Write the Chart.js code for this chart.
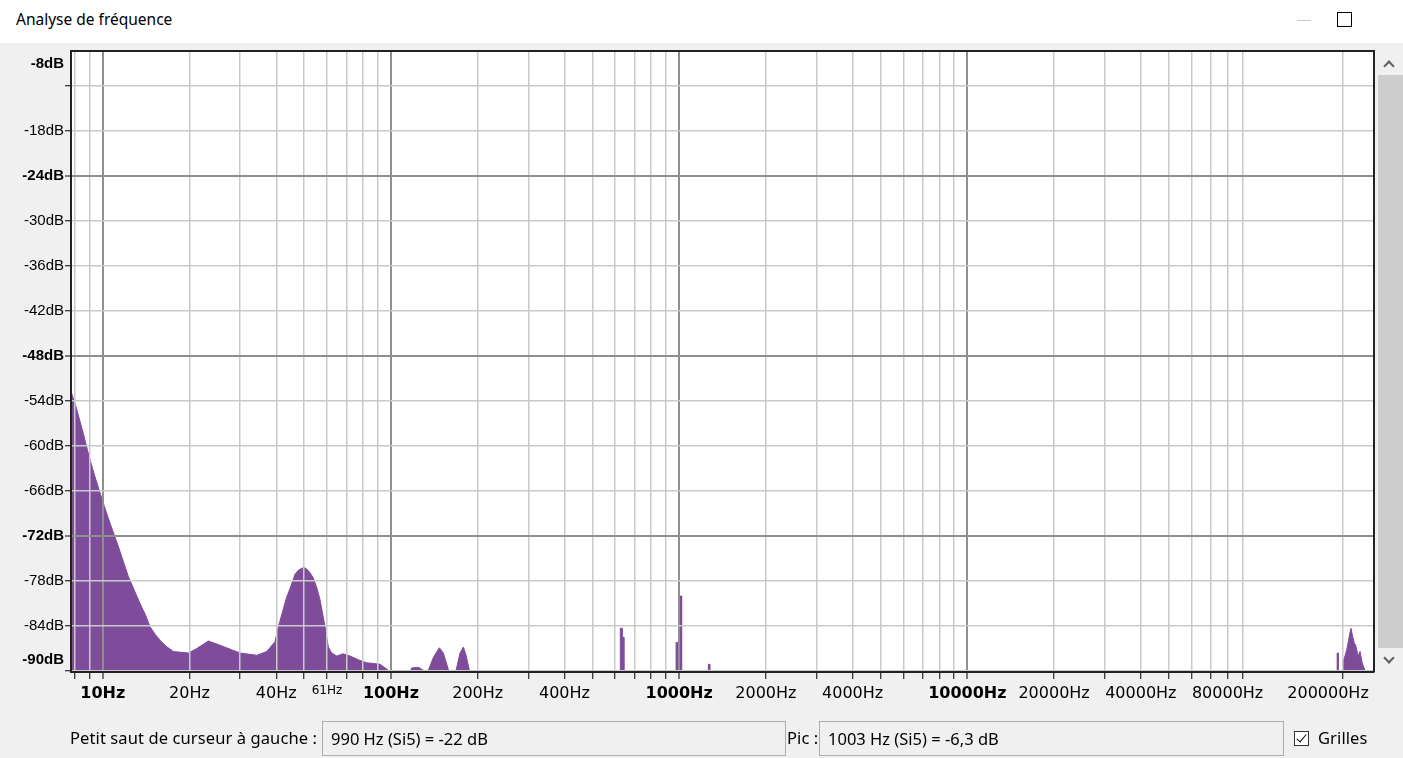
<!DOCTYPE html>
<html lang="fr">
<head>
<meta charset="utf-8">
<title>Analyse de fréquence</title>
<script src="https://cdn.jsdelivr.net/npm/chart.js@4.4.1/dist/chart.umd.min.js"></script>
<style>
  html, body { margin: 0; padding: 0; }
  body {
    width: 1403px; height: 758px; position: relative; overflow: hidden;
    background: #f0f0f0; font-family: "Noto Sans", "Open Sans", sans-serif; color: #000;
  }
  #titlebar { position: absolute; left: 0; top: 0; width: 1403px; height: 43px; background: #fff; }
  #titlebar .t { position: absolute; left: 16px; top: 8px; font-size: 15.5px; }
  #titlebar .min { position: absolute; left: 1297px; top: 20px; width: 14px; height: 1px; background: #c8c8c8; }
  #titlebar .max { position: absolute; left: 1337px; top: 12px; width: 13px; height: 13px; border: 1px solid #000; }
  #wrap { position: absolute; left: 0; top: 0; width: 1403px; height: 758px; }
  #sb { position: absolute; left: 1377px; top: 51px; width: 26px; height: 621px; background: #f0f0f0; }
  #sb .thumb { position: absolute; left: 1px; top: 24px; width: 25px; height: 573px; background: #cdcdcd; }
  .chev { position: absolute; left: 8px; width: 6px; height: 6px; border-left: 2px solid #606060; border-top: 2px solid #606060; }
  .chev.up { top: 11px; transform: rotate(45deg); }
  .chev.down { top: 603px; transform: rotate(225deg); }
  .lbl { position: absolute; top: 727px; font-size: 16.5px; line-height: 22px; white-space: nowrap; letter-spacing: 0.1px; }
  .box {
    position: absolute; top: 721px; height: 33px; border: 1px solid #adadad; background: #f0f0f0;
    font-size: 16.5px; line-height: 33px; padding-left: 8px; box-sizing: content-box; white-space: nowrap;
  }
  .chk { position: absolute; left: 1294px; top: 731px; width: 13px; height: 13px; border: 1px solid #333; background: #fff; }
  .chk::after {
    content: ""; position: absolute; left: 4px; top: 0px; width: 4px; height: 9px;
    border-right: 1.5px solid #000; border-bottom: 1.5px solid #000; transform: rotate(40deg);
  }
</style>
</head>
<body>
<div id="titlebar">
  <div class="t">Analyse de fréquence</div>
  <div class="min"></div>
  <div class="max"></div>
</div>
<div id="wrap"><canvas id="spectrum" width="1403" height="758"></canvas></div>
<div id="sb">
  <div class="chev up"></div>
  <div class="thumb"></div>
  <div class="chev down"></div>
</div>
<div class="lbl" style="left:70px">Petit saut de curseur à gauche :</div>
<div class="box" style="left:322px; width:454px">990 Hz (Si5) = -22 dB</div>
<div class="lbl" style="left:787px">Pic :</div>
<div class="box" style="left:819px; width:455px">1003 Hz (Si5) = -6,3 dB</div>
<div class="chk"></div>
<div class="lbl" style="left:1318px">Grilles</div>

<script>
// spectrum (Hz, dB). -95 = below the floor of the view
const freqHz = [
  7.7, 8.08, 8.56, 8.98, 9.4, 10, 10.6, 11.33, 12.27, 13.47, 14.1, 14.59, 15.2, 15.8, 16.6, 17.58,
  19.82, 21.2, 23.25, 24.86, 29.95, 34.22, 37.07, 39.61, 40.67, 43.5, 44.66, 46.47, 47.61,
  49.04, 49.94, 51.03, 52.39, 53.8, 55.41, 56.75, 59.06, 60.64, 62.31, 64.85, 68.36, 72.12,
  78.13, 82.41, 91.67, 97.95, 101.9, 113.4, 118.1, 124.5, 129.6, 133.2, 134.9, 140.3, 147.2,
  152, 158.2, 160.4, 166, 168.3, 173.7, 178.4, 182.3, 187.1, 189.7,
  625, 625, 634, 634, 643, 643,
  976, 976, 990, 990,
  1005, 1005, 1020, 1020,
  1263, 1263, 1277, 1277,
  192000, 192000, 193800, 193800,
  201500, 201700, 204400, 207200, 209900, 212800, 214500, 216700, 220200, 222500,
  224500, 227400, 230500, 234800, 238000, 238500, 258000
];
const levelDb = [
  -52.3, -54.8, -58.3, -61.5, -64.1, -67.4, -70.3, -73.4, -77.4, -81.0, -82.6, -84.1, -85.1, -85.9, -86.7, -87.4,
  -87.6, -87.0, -86.0, -86.4, -87.6, -87.9, -87.4, -86.1, -84.1, -80.1, -79.0, -77.1, -76.6,
  -76.3, -76.2, -76.4, -76.9, -77.6, -79.0, -80.5, -84.1, -86.8, -87.6, -88.0, -87.7, -88.0,
  -88.6, -88.9, -89.1, -89.9, -91, -91, -89.6, -89.5, -89.9, -90.4, -89.9, -88.2, -86.9,
  -87.6, -89.8, -91, -91, -89.9, -87.6, -86.8, -87.9, -89.9, -95,
  -95, -84.3, -84.3, -85.5, -85.5, -95,
  -95, -86.2, -86.2, -95,
  -95, -80.0, -80.0, -95,
  -95, -89.1, -89.1, -95,
  -95, -87.6, -87.6, -95,
  -95, -88.7, -88.0, -87.2, -86.1, -84.8, -84.3, -85.2, -86.3, -86.5,
  -87.2, -88.0, -87.4, -89.0, -89.6, -95, -95
];

// axes
const xMin = 7.76;
const xMax = 257700;
const yMin = -90.13;
const yMax = -7.33;
const xGridHz = [8, 9, 10, 20, 30, 40, 50, 60, 70, 80, 90,
  100, 200, 300, 400, 500, 600, 700, 800, 900,
  1000, 2000, 3000, 4000, 5000, 6000, 7000, 8000, 9000,
  10000, 20000, 30000, 40000, 50000, 60000, 70000, 80000, 90000, 200000];
const xTickLabels = {
  10: '10Hz', 20: '20Hz', 40: '40Hz', 60: '61Hz', 100: '100Hz', 200: '200Hz', 400: '400Hz',
  1000: '1000Hz', 2000: '2000Hz', 4000: '4000Hz', 10000: '10000Hz', 20000: '20000Hz',
  40000: '40000Hz', 80000: '80000Hz'
};
// labels pushed inside the plot edge, as the ruler does (no grid line of their own)
const xEdgeLabels = { 178500: '200000Hz' };
const xMajor = [10, 100, 1000, 10000];

const yGridDb = [-90, -84, -78, -72, -66, -60, -54, -48, -42, -36, -30, -24, -18, -12];
const yTickLabels = {
  '-84': '-84dB', '-78': '-78dB', '-72': '-72dB', '-66': '-66dB', '-60': '-60dB', '-54': '-54dB',
  '-48': '-48dB', '-42': '-42dB', '-36': '-36dB', '-30': '-30dB', '-24': '-24dB', '-18': '-18dB'
};
const yEdgeLabels = { '-9': '-8dB', '-88.5': '-90dB' };
const yMajor = [-24, -48, -72];
const yBold = ['-8dB', '-24dB', '-48dB', '-72dB', '-90dB'];

const purple = '#7f4c9b';
const gridLight = '#c9c9c9';
const gridDark = '#8e8e8e';
const none = 'rgba(0,0,0,0)';

const paper = {
  id: 'paper',
  beforeDraw(chart) {
    const a = chart.chartArea, c = chart.ctx;
    c.save();
    c.fillStyle = '#fff';
    c.fillRect(a.left, a.top, a.right - a.left, a.bottom - a.top);
    c.restore();
  },
  afterDraw(chart) {
    const a = chart.chartArea, c = chart.ctx;
    c.save();
    c.strokeStyle = '#222';
    c.lineWidth = 2;
    c.beginPath();
    c.moveTo(a.left, a.top);
    c.lineTo(a.right, a.top);
    c.lineTo(a.right, a.bottom);
    c.stroke();
    c.restore();
  }
};

function xLabel(v) {
  return xTickLabels[v] || xEdgeLabels[v] || '';
}
function yLabel(v) {
  return yTickLabels[String(v)] || yEdgeLabels[String(v)] || '';
}

const ctx = document.getElementById('spectrum').getContext('2d');
const chart = new Chart(ctx, {
  type: 'line',
  data: {
    datasets: [{
      data: freqHz.map((f, i) => ({ x: f, y: levelDb[i] })),
      borderColor: purple,
      backgroundColor: purple,
      borderWidth: 1,
      pointRadius: 0,
      tension: 0,
      fill: 'start'
    }]
  },
  options: {
    responsive: false,
    animation: false,
    events: [],
    layout: { padding: { left: 0, top: 51, right: 29, bottom: 50 } },
    plugins: { legend: { display: false }, tooltip: { enabled: false } },
    scales: {
      x: {
        type: 'logarithmic',
        min: xMin,
        max: xMax,
        afterBuildTicks: (s) => {
          const vals = xGridHz.concat(Object.keys(xEdgeLabels).map(Number)).sort((a, b) => a - b);
          s.ticks = vals.map(v => ({ value: v }));
        },
        afterFit: (s) => { s.height = 36; },
        grid: {
          z: 1,
          color: (c) => {
            const v = c.tick && c.tick.value;
            if (xEdgeLabels[v]) return none;
            return xMajor.includes(v) ? gridDark : gridLight;
          },
          lineWidth: (c) => xMajor.includes(c.tick && c.tick.value) ? 2 : 1.5,
          tickColor: (c) => xEdgeLabels[c.tick && c.tick.value] ? none : '#000',
          tickLength: 7,
          tickWidth: 1
        },
        border: { z: 2, color: '#222', width: 2 },
        ticks: {
          autoSkip: false,
          maxRotation: 0,
          padding: 5,
          color: '#000',
          font: (c) => {
            const v = c.tick && c.tick.value;
            if (v === 60) return { family: 'DejaVu Sans', size: 12 };
            return { family: 'DejaVu Sans', size: 16, weight: xMajor.includes(v) ? 'bold' : 'normal' };
          },
          callback: (v) => xLabel(v)
        }
      },
      y: {
        min: yMin,
        max: yMax,
        afterBuildTicks: (s) => {
          const vals = yGridDb.concat(Object.keys(yEdgeLabels).map(Number)).sort((a, b) => a - b);
          s.ticks = vals.map(v => ({ value: v }));
        },
        afterFit: (s) => { s.width = 71; },
        grid: {
          z: 1,
          color: (c) => {
            const v = c.tick && c.tick.value;
            if (yEdgeLabels[String(v)]) return none;
            return yMajor.includes(v) ? gridDark : gridLight;
          },
          lineWidth: (c) => yMajor.includes(c.tick && c.tick.value) ? 2 : 1.5,
          tickColor: (c) => yEdgeLabels[String(c.tick && c.tick.value)] ? none : '#000',
          tickLength: 6,
          tickWidth: 1
        },
        border: { z: 2, color: '#222', width: 2 },
        ticks: {
          padding: 1,
          color: '#000',
          font: (c) => ({
            family: 'Liberation Sans', size: 15,
            weight: yBold.includes(yLabel(c.tick && c.tick.value)) ? 'bold' : 'normal'
          }),
          callback: (v) => yLabel(v)
        }
      }
    }
  },
  plugins: [paper]
});
</script>
</body>
</html>
